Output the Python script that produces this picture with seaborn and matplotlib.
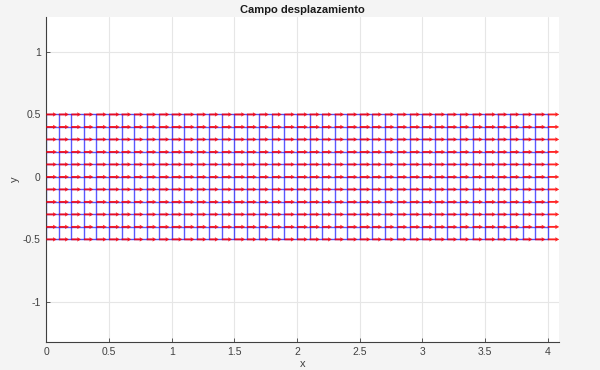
import numpy as np
import pandas as pd
import matplotlib
matplotlib.use("Agg")
import matplotlib.pyplot as plt
import seaborn as sns

# ---- data -------------------------------------------------------------
x_nodes = [0.0, 0.1, 0.2, 0.3, 0.4, 0.5, 0.6, 0.7, 0.8, 0.9,
           1.0, 1.1, 1.2, 1.3, 1.4, 1.5, 1.6, 1.7, 1.8, 1.9,
           2.0, 2.1, 2.2, 2.3, 2.4, 2.5, 2.6, 2.7, 2.8, 2.9,
           3.0, 3.1, 3.2, 3.3, 3.4, 3.5, 3.6, 3.7, 3.8, 3.9, 4.0]
y_nodes = [-0.5, -0.4, -0.3, -0.2, -0.1, 0.0, 0.1, 0.2, 0.3, 0.4, 0.5]
# horizontal displacement per column (scaled by quiver auto-scale)
ux = [0.92, 0.88, 0.85, 0.82, 0.90, 0.94, 0.86, 0.83, 0.86, 0.90,
      0.94, 0.90, 0.86, 0.83, 0.90, 0.94, 0.86, 0.83, 0.86, 0.90,
      0.94, 0.90, 0.86, 0.83, 0.90, 0.94, 0.86, 0.83, 0.86, 0.90,
      0.94, 0.90, 0.86, 0.83, 0.90, 0.94, 0.86, 0.83, 0.86, 0.90, 1.00]
uy = [0.0] * len(x_nodes)
x_ticks = [0, 0.5, 1, 1.5, 2, 2.5, 3, 3.5, 4]
x_ticklabels = ["0", "0.5", "1", "1.5", "2", "2.5", "3", "3.5", "4"]
y_ticks = [-1, -0.5, 0, 0.5, 1]
y_ticklabels = ["-1", "-0.5", "0", "0.5", "1"]
title = "Campo desplazamiento"

# ---- style ------------------------------------------------------------
sns.set_theme(style="whitegrid")
plt.rcParams["font.family"] = ["Liberation Sans", "DejaVu Sans"]

fig = plt.figure(figsize=(6.0, 3.7), dpi=100, facecolor="#f4f4f4")
ax = fig.add_axes([0.0772, 0.0762, 0.8545, 0.8778])
ax.set_facecolor("white")

# mesh lines (long-form table for seaborn)
rows = []
for i, xv in enumerate(x_nodes):
    for yv in (y_nodes[0], y_nodes[-1]):
        rows.append({"line": f"v{i}", "x": xv, "y": yv})
for j, yv in enumerate(y_nodes):
    for xv in (x_nodes[0], x_nodes[-1]):
        rows.append({"line": f"h{j}", "x": xv, "y": yv})
mesh = pd.DataFrame(rows)
sns.lineplot(data=mesh, x="x", y="y", units="line", estimator=None,
             sort=False, color="#0000ff", lw=1.0, alpha=0.65, ax=ax,
             zorder=2)

# displacement arrows
X, Y = np.meshgrid(x_nodes, y_nodes)
U = np.tile(ux, (len(y_nodes), 1))
V = np.tile(uy, (len(y_nodes), 1))
max_u = np.max(np.abs(U))
ax.quiver(X, Y, U, V, angles="xy", scale_units="xy",
          scale=max_u / 0.092, color="#ff0000", width=0.0036,
          headwidth=2.4, headlength=2.2, headaxislength=2.0,
          alpha=0.85, zorder=3)

# ---- axes -------------------------------------------------------------
ax.set_xlim(0, 4.09)
ax.set_ylim(-1.32, 1.28)
ax.set_xticks(x_ticks)
ax.set_xticklabels(x_ticklabels)
ax.set_yticks(y_ticks)
ax.set_yticklabels(y_ticklabels)
ax.grid(True, color="#e6e6e6", lw=0.8)
ax.set_axisbelow(True)
for s in ("top", "right"):
    ax.spines[s].set_visible(False)
for s in ("left", "bottom"):
    ax.spines[s].set_visible(True)
    ax.spines[s].set_color("#404040")
    ax.spines[s].set_linewidth(0.8)
ax.tick_params(axis="both", direction="in", length=3, width=0.6,
               colors="#404040", labelsize=7.5, pad=4,
               bottom=True, left=True)
ax.set_xlabel("x", fontsize=8, color="#404040", labelpad=1)
ax.set_ylabel("y", fontsize=8, color="#404040", labelpad=2)
ax.set_title(title, fontsize=8, fontweight="bold", color="#1a1a1a", pad=3)

fig.savefig("out.png", dpi=100, facecolor=fig.get_facecolor())
